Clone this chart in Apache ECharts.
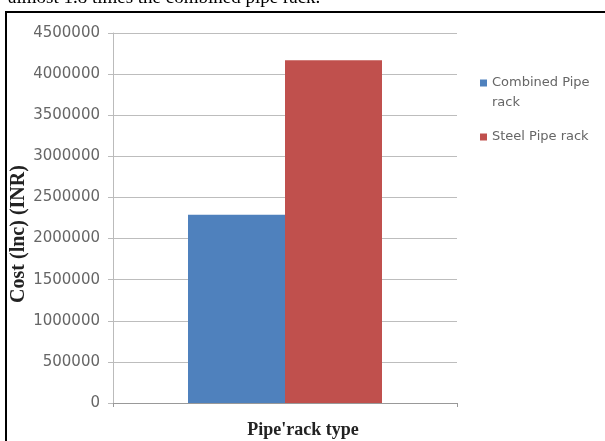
<!DOCTYPE html>
<html>
<head>
<meta charset="utf-8">
<script src="https://cdn.jsdelivr.net/npm/echarts@6/dist/echarts.min.js"></script>
<style>html,body{margin:0;padding:0;background:#fff;}#c{width:605px;height:441px;}</style>
</head>
<body>
<div id="c"></div>
<script>
const categories = ['Pipe rack'];
const seriesNames = ['Combined Pipe rack', 'Steel Pipe rack'];
const combinedValues = [2290000];
const steelValues = [4170000];
const yTicks = [0, 500000, 1000000, 1500000, 2000000, 2500000, 3000000, 3500000, 4000000, 4500000];
const yAxisTitle = 'Cost (lnc) (INR)';
const xAxisTitle = "Pipe'rack type";
const captionText = 'almost 1.8 times the combined pipe rack.';

const chart = echarts.init(document.getElementById('c'));
chart.setOption({
  backgroundColor: '#fff',
  animation: false,
  grid: { left: 113, right: 148, top: 33, bottom: 38, containLabel: false, outerBoundsMode: 'none' },
  legend: [
    {
      data: [seriesNames[0]],
      left: 480, top: 53, padding: 0,
      orient: 'vertical',
      itemWidth: 7, itemHeight: 7, itemGap: 0,
      icon: 'rect',
      formatter: () => '\nCombined Pipe\nrack',
      textStyle: { fontFamily: 'DejaVu Sans', fontSize: 13, color: '#666', lineHeight: 20 }
    },
    {
      data: [seriesNames[1]],
      left: 480, top: 127, padding: 0,
      orient: 'vertical',
      itemWidth: 7, itemHeight: 7,
      icon: 'rect',
      textStyle: { fontFamily: 'DejaVu Sans', fontSize: 13, color: '#666', lineHeight: 20 }
    }
  ],
  xAxis: {
    type: 'category',
    data: categories,
    name: xAxisTitle,
    nameLocation: 'middle',
    nameGap: 18,
    nameTextStyle: { fontFamily: 'Liberation Serif', fontWeight: 'bold', fontSize: 18, color: '#222', padding: [0, 0, 0, 36] },
    axisLine: { lineStyle: { color: '#999' } },
    axisTick: { show: true, alignWithLabel: false, length: 4, lineStyle: { color: '#999' } },
    axisLabel: { show: false },
    splitLine: { show: false }
  },
  yAxis: {
    type: 'value',
    min: yTicks[0],
    max: yTicks[yTicks.length - 1],
    interval: yTicks[1] - yTicks[0],
    name: yAxisTitle,
    nameLocation: 'middle',
    nameGap: 84,
    nameMoveOverlap: false,
    nameTextStyle: { fontFamily: 'Liberation Serif', fontWeight: 'bold', fontSize: 20, color: '#222', padding: [0, 32, 0, 0] },
    axisLine: { show: true, lineStyle: { color: '#bbb' } },
    axisTick: { show: true, length: 5, lineStyle: { color: '#bbb' } },
    axisLabel: { fontFamily: 'DejaVu Sans', fontSize: 15, color: '#666', margin: 13, formatter: v => String(v) },
    splitLine: { lineStyle: { color: '#bdbdbd' } }
  },
  series: [
    { name: seriesNames[0], type: 'bar', data: combinedValues, barWidth: 97, barGap: '0%', itemStyle: { color: '#4f81bd' } },
    { name: seriesNames[1], type: 'bar', data: steelValues, barWidth: 97, barGap: '0%', itemStyle: { color: '#c0504d' } }
  ],
  graphic: [
    { type: 'rect', shape: { x: 6, y: 12, width: 640, height: 460 }, style: { fill: 'none', stroke: '#000', lineWidth: 2 }, silent: true },
    { type: 'text', x: 8, y: 8, style: { text: captionText, font: '19px "Liberation Serif"', fill: '#000', textVerticalAlign: 'bottom' }, silent: true }
  ]
});
</script>
</body>
</html>
